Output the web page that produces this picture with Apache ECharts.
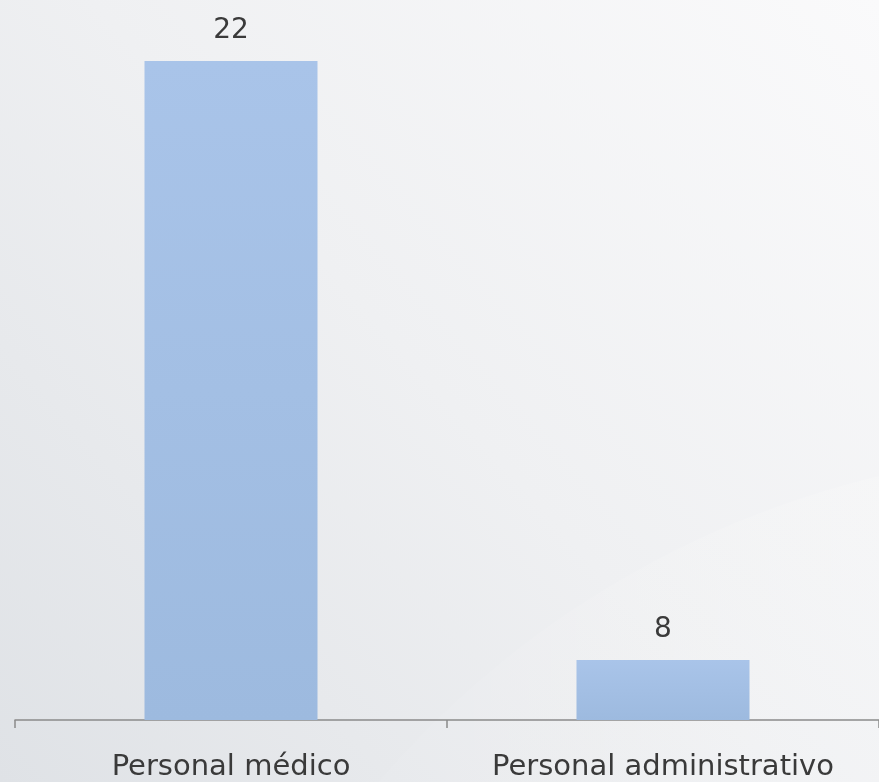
<!DOCTYPE html>
<html>
<head>
<meta charset="utf-8">
<script src="https://cdn.jsdelivr.net/npm/echarts@6/dist/echarts.min.js"></script>
<style>
  html, body { margin: 0; padding: 0; }
  #chart { width: 879px; height: 782px; }
</style>
</head>
<body>
<div id="chart"></div>
<script>
// categorías y valores
const categories = ['Personal médico', 'Personal administrativo']
const values = [22, 8]

const chart = echarts.init(document.getElementById('chart'))

const option = {
  backgroundColor: {
    type: 'linear', x: 1, y: 0, x2: 0, y2: 1,
    colorStops: [
      { offset: 0, color: '#fafafb' },
      { offset: 0.5, color: '#eff0f2' },
      { offset: 1, color: '#dfe2e6' }
    ]
  },
  // franja clara del fondo
  graphic: [
    {
      type: 'circle',
      z: -10,
      silent: true,
      shape: { cx: 1100, cy: 1400, r: 950 },
      style: {
        fill: {
          type: 'linear', x: 0, y: 0, x2: 1, y2: 0,
          colorStops: [
            { offset: 0, color: 'rgba(255,255,255,0)' },
            { offset: 0.6, color: 'rgba(255,255,255,0.25)' },
            { offset: 1, color: 'rgba(255,255,255,0.6)' }
          ]
        }
      }
    }
  ],
  grid: {
    left: 15,
    width: 870,
    top: 61,
    bottom: 62
  },
  xAxis: {
    type: 'category',
    data: categories,
    axisLine: { lineStyle: { color: '#8a8a8a', width: 1.5 } },
    axisTick: { show: true, interval: 0, length: 8, lineStyle: { color: '#8a8a8a', width: 1.5 } },
    axisLabel: {
      interval: 0,
      hideOverlap: false,
      color: '#3a3a3a',
      fontFamily: 'DejaVu Sans',
      fontSize: 29,
      margin: 33
    }
  },
  yAxis: {
    type: 'value',
    min: 6.6,
    max: 22,
    show: false,
    splitLine: { show: false }
  },
  series: [
    {
      type: 'bar',
      data: values,
      barWidth: 173,
      itemStyle: {
        color: {
          type: 'linear', x: 0, y: 0, x2: 0, y2: 1,
          colorStops: [
            { offset: 0, color: '#a9c4e9' },
            { offset: 1, color: '#9dbadf' }
          ]
        }
      },
      label: {
        show: true,
        position: 'top',
        distance: 16,
        color: '#3a3a3a',
        fontFamily: 'DejaVu Sans',
        fontSize: 28
      }
    }
  ]
}

chart.setOption(option)
</script>
</body>
</html>
